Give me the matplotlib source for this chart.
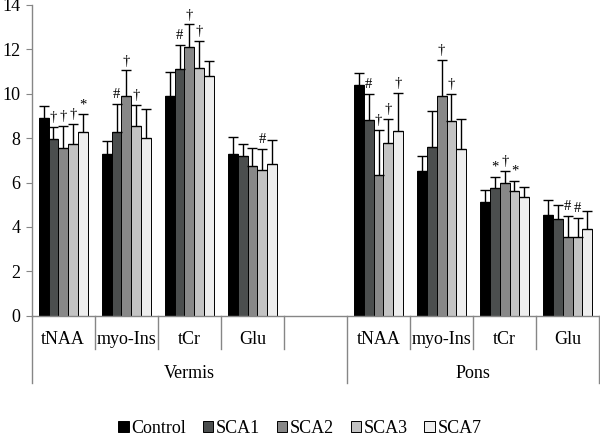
import numpy as np
import matplotlib
matplotlib.use('Agg')
import matplotlib.pyplot as plt
from matplotlib.transforms import blended_transform_factory
from matplotlib.lines import Line2D

plt.rcParams['font.family'] = ['Liberation Serif', 'DejaVu Serif']

# groups / categories
regions = ['Vermis', 'Pons']
metabolites = ['tNAA', 'myo-Ins', 'tCr', 'Glu']
series = ['Control', 'SCA1', 'SCA2', 'SCA3', 'SCA7']

# means, vermis (tNAA, myo-Ins, tCr, Glu) then pons (same order)
control = [8.92, 7.27, 9.91, 7.30, 10.38, 6.53, 5.14, 4.54]
sca1 = [7.96, 8.26, 11.12, 7.20, 8.83, 7.60, 5.74, 4.34]
sca2 = [7.54, 9.90, 12.10, 6.76, 6.33, 9.89, 5.98, 3.53]
sca3 = [7.72, 8.55, 11.16, 6.55, 7.77, 8.79, 5.62, 3.56]
sca7 = [8.26, 8.01, 10.79, 6.85, 8.31, 7.51, 5.34, 3.91]

# standard deviations (upper error bars only)
control_sd = [0.53, 0.60, 1.06, 0.74, 0.54, 0.65, 0.54, 0.67]
sca1_sd = [0.53, 1.27, 1.08, 0.55, 1.15, 1.62, 0.52, 0.64]
sca2_sd = [1.02, 1.15, 1.03, 0.80, 2.04, 1.63, 0.55, 0.95]
sca3_sd = [0.93, 0.95, 1.23, 0.95, 1.08, 1.19, 0.46, 0.84]
sca7_sd = [0.82, 1.32, 0.70, 1.05, 1.74, 1.34, 0.46, 0.81]

# significance marks
control_sig = ['', '', '', '', '', '', '', '']
sca1_sig = ['\u2020', '#', '#', '', '#', '', '*', '']
sca2_sig = ['\u2020', '\u2020', '\u2020', '', '\u2020', '\u2020', '\u2020', '#']
sca3_sig = ['\u2020', '\u2020', '\u2020', '#', '\u2020', '\u2020', '*', '#']
sca7_sig = ['*', '', '', '', '\u2020', '', '', '']

means = [control, sca1, sca2, sca3, sca7]
sds = [control_sd, sca1_sd, sca2_sd, sca3_sd, sca7_sd]
sigs = [control_sig, sca1_sig, sca2_sig, sca3_sig, sca7_sig]
colors = ['#000000', '#4b4e4e', '#888888', '#c3c3c3', '#eeeeee']

# slot positions: vermis 0-3, empty slot 4, pons 5-8
pos = np.array([0, 1, 2, 3, 5, 6, 7, 8])
n_slots = 9
barw = 0.155
fs = 13

fig = plt.figure(figsize=(6, 4.37), dpi=100)
ax = fig.add_axes([31.7 / 600, 0.2776, 567.6 / 600, 0.711])

handles = []
for j in range(len(series)):
    x = pos + (j - 2) * barw
    b = ax.bar(x, means[j], width=barw, color=colors[j], edgecolor='black',
               linewidth=0.7, label=series[j], zorder=2)
    handles.append(b)
    ax.errorbar(x, means[j], yerr=[np.zeros(len(x)), sds[j]], fmt='none',
                ecolor='black', elinewidth=1, capsize=3.5, capthick=1, zorder=3)
    for k in range(len(x)):
        if sigs[j][k]:
            ax.annotate(sigs[j][k], (x[k], means[j][k] + sds[j][k]),
                        xytext=(0, 2), textcoords='offset points',
                        ha='center', va='bottom', fontsize=10.5)

ax.set_xlim(-0.5, n_slots - 0.5)
ax.set_ylim(0, 14)
ax.set_yticks(range(0, 15, 2))
ax.set_xticks([])
ax.tick_params(axis='y', labelsize=fs, length=4, color='#868686', pad=4)
for s in ['top', 'right']:
    ax.spines[s].set_visible(False)
for s in ['left', 'bottom']:
    ax.spines[s].set_color('#868686')
    ax.spines[s].set_linewidth(1)

# multi-level category axis
tr = blended_transform_factory(ax.transData, fig.transFigure)
y_axis = 0.2776
y_short = (437 - 349) / 437
y_long = (437 - 383) / 437
for b in np.arange(-0.5, n_slots, 1.0):
    long_line = b in (-0.5, 4.5, n_slots - 0.5)
    yb = y_long if long_line else y_short
    fig.add_artist(Line2D([b, b], [y_axis, yb], transform=tr,
                          color='#868686', linewidth=1, clip_on=False))

y_cat = (437 - 340) / 437
for i, p in enumerate(pos):
    fig.text(p, y_cat, metabolites[i % 4], transform=tr, ha='center',
             va='center', fontsize=fs)

y_reg = (437 - 373) / 437
fig.text(2, y_reg, regions[0], transform=tr, ha='center', va='center', fontsize=fs)
fig.text(6.5, y_reg, regions[1], transform=tr, ha='center', va='center', fontsize=fs)

fig.legend(handles=handles, labels=series, loc='center', bbox_to_anchor=(0.5, 0.02),
           ncol=5, frameon=False, fontsize=fs, handlelength=0.6, handleheight=0.6,
           handletextpad=0.15, columnspacing=0.9)

fig.savefig('out.png', dpi=100)
